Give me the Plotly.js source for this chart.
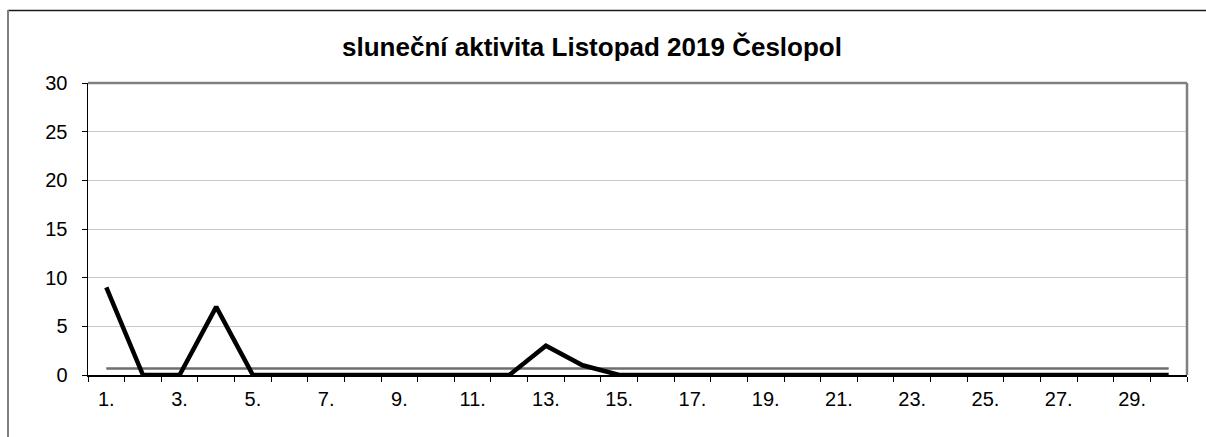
<!DOCTYPE html>
<html>
<head>
<meta charset="utf-8">
<script src="https://cdn.plot.ly/plotly-3.0.1.min.js"></script>
<style>
html,body{margin:0;padding:0;background:#fff;}
#chart{width:1206px;height:437px;}
</style>
</head>
<body>
<div id="chart"></div>
<script>
const days = [1,2,3,4,5,6,7,8,9,10,11,12,13,14,15,16,17,18,19,20,21,22,23,24,25,26,27,28,29,30];
const activity = [9,0,0,7,0,0,0,0,0,0,0,0,3,1,0,0,0,0,0,0,0,0,0,0,0,0,0,0,0,0];
const titleText = "sluneční aktivita Listopad 2019 Česlopol";
const yTicks = [0,5,10,15,20,25,30];

const mean = activity.reduce((a,b)=>a+b,0)/activity.length;
const meanSeries = days.map(()=>mean);
const labelDays = days.filter(d => d % 2 === 1);
const labelText = labelDays.map(d => d + ".");
const boundaries = days.map(d => d - 0.5).concat([days[days.length-1] + 0.5]);

const W = 1206, H = 437;
const m = {l:88, r:19, t:83, b:62};
const pw = W - m.l - m.r, ph = H - m.t - m.b;
const px = v => (v - m.l) / pw;
const py = v => (H - m.b - v) / ph;

const traces = [
  {x: days, y: meanSeries, type:'scatter', mode:'lines',
   line:{color:'#6e6e6e', width:2.5}, hoverinfo:'skip'},
  {x: days, y: activity, type:'scatter', mode:'lines',
   line:{color:'#000000', width:4.5}, hoverinfo:'skip'}
];

const layout = {
  width: W, height: H,
  margin: m,
  paper_bgcolor:'#ffffff', plot_bgcolor:'#ffffff',
  showlegend:false,
  font:{family:'"Liberation Sans", Arial, sans-serif', color:'#000'},
  title:{text:'<b>'+titleText+'</b>', font:{size:26, color:'#000', family:'"Liberation Sans", Arial, sans-serif'},
         x:px(592), xref:'paper', xanchor:'center', y:1 - 47/437, yref:'container', yanchor:'middle'},
  xaxis:{
    range:[0.5, 30.5], tickmode:'array', tickvals:labelDays, ticktext:labelText,
    ticks:'', showgrid:false, zeroline:false,
    showline:true, linecolor:'#000', linewidth:1.5,
    tickfont:{size:20}, ticklabelstandoff:5,
    minor:{tickmode:'array', tickvals:boundaries, ticks:'outside', ticklen:5, tickcolor:'#000', tickwidth:1, showgrid:false}
  },
  yaxis:{
    range:[0,30], tickmode:'array', tickvals:yTicks, ticktext:yTicks.map(String),
    ticks:'outside', ticklen:5, tickcolor:'#000', tickwidth:1,
    showgrid:true, gridcolor:'#c8c8c8', gridwidth:1, zeroline:false,
    showline:true, linecolor:'#000', linewidth:1.5,
    tickfont:{size:20}, ticklabelstandoff:10
  },
  shapes:[
    {type:'line', xref:'paper', yref:'paper', x0:0, x1:1, y0:1, y1:1, line:{color:'#808080', width:2.5}, layer:'above'},
    {type:'line', xref:'paper', yref:'paper', x0:1, x1:1, y0:0, y1:1, line:{color:'#808080', width:2.5}, layer:'above'},
    {type:'line', xref:'paper', yref:'paper', x0:px(8), x1:px(1206), y0:py(10.5), y1:py(10.5), line:{color:'#1a1a1a', width:1.5}},
    {type:'line', xref:'paper', yref:'paper', x0:px(8), x1:px(8), y0:py(10), y1:py(437), line:{color:'#808080', width:2}}
  ]
};

Plotly.newPlot('chart', traces, layout, {displayModeBar:false, staticPlot:true});
</script>
</body>
</html>
